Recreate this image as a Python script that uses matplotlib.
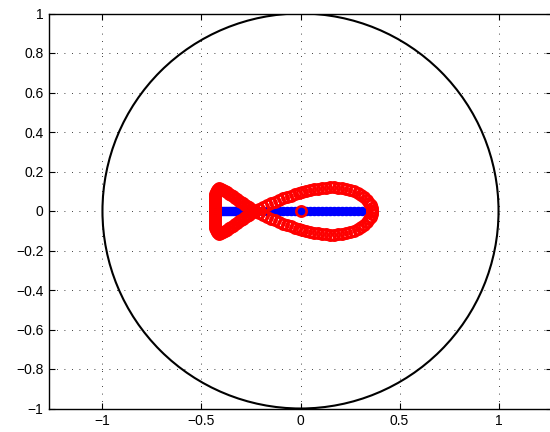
import matplotlib
matplotlib.use("Agg")
import matplotlib.pyplot as plt
from matplotlib.patches import Circle

plt.rcParams['font.family'] = ['Liberation Sans', 'DejaVu Sans']

# complex pair, upper half of the locus (lower half is the conjugate)
# right lobe, from the crossing point out to the real axis at the right
right_x = [-0.23, -0.21, -0.19, -0.17, -0.15, -0.13, -0.11, -0.09, -0.07, -0.05,
           -0.03, -0.01, 0.01, 0.03, 0.05, 0.07, 0.09, 0.11, 0.13, 0.15,
           0.17, 0.19, 0.21, 0.23, 0.25, 0.27, 0.29, 0.305, 0.32, 0.335,
           0.346, 0.354, 0.359, 0.361]
right_y = [0.000, 0.010, 0.020, 0.030, 0.039, 0.048, 0.056, 0.064, 0.071, 0.078,
           0.084, 0.090, 0.096, 0.101, 0.106, 0.110, 0.113, 0.116, 0.118, 0.119,
           0.119, 0.118, 0.116, 0.112, 0.107, 0.100, 0.091, 0.082, 0.071, 0.057,
           0.043, 0.029, 0.014, 0.000]

# left lobe, from the crossing point out to the left end
left_x = [-0.23, -0.24, -0.25, -0.26, -0.27, -0.28, -0.29, -0.30, -0.31, -0.32,
          -0.33, -0.34, -0.35, -0.36, -0.37, -0.38, -0.39, -0.40, -0.41, -0.418,
          -0.424, -0.428, -0.430, -0.431, -0.432, -0.432, -0.432, -0.432, -0.432,
          -0.432, -0.432]
left_y = [0.000, 0.006, 0.012, 0.019, 0.025, 0.032, 0.039, 0.046, 0.053, 0.060,
          0.067, 0.074, 0.081, 0.088, 0.095, 0.102, 0.108, 0.113, 0.115, 0.112,
          0.105, 0.096, 0.086, 0.076, 0.066, 0.056, 0.046, 0.036, 0.026, 0.016,
          0.006]

# real roots
real_x = [-0.42, -0.41, -0.40, -0.39, -0.38, -0.37, -0.36, -0.35, -0.34, -0.33,
          -0.32, -0.31, -0.30, -0.29, -0.28, -0.27, -0.26, -0.25, -0.24, -0.23,
          -0.21, -0.19, -0.17, -0.15, -0.13, -0.11, -0.09, -0.07, -0.05, -0.03,
          -0.01, 0.0, 0.01, 0.03, 0.05, 0.07, 0.09, 0.11, 0.13, 0.15, 0.17,
          0.19, 0.21, 0.23, 0.25, 0.27, 0.29, 0.31]

origin = [0.0]

xticks = [-1, -0.5, 0, 0.5, 1]
yticks = [-1, -0.8, -0.6, -0.4, -0.2, 0, 0.2, 0.4, 0.6, 0.8, 1]

fig = plt.figure(figsize=(5.5, 4.32), dpi=100)
ax = fig.add_axes([49 / 550, 23.5 / 432, 503 / 550, 395 / 432])

ax.add_patch(Circle((0, 0), 1, fill=False, color='k', lw=1.5, zorder=2))

ax.plot(real_x, [0] * len(real_x), 'o', color='b', ms=5.8, mec='b', zorder=3)

for xs, ys in [(right_x, right_y), (left_x, left_y)]:
    ax.plot(xs, ys, 'o', mfc='none', mec='r', mew=1.9, ms=7.4, zorder=4)
    ax.plot(xs, [-v for v in ys], 'o', mfc='none', mec='r', mew=1.9, ms=7.4, zorder=4)
ax.plot(origin, origin, 'o', mfc='none', mec='r', mew=1.9, ms=7.4, zorder=5)

ax.set_xlim(-1.27, 1.27)
ax.set_ylim(-1, 1)
ax.set_xticks(xticks)
ax.set_yticks(yticks)
ax.set_xticklabels(['\u22121', '\u22120.5', '0', '0.5', '1'])
ax.set_yticklabels(['\u22121', '\u22120.8', '\u22120.6', '\u22120.4', '\u22120.2', '0',
                    '0.2', '0.4', '0.6', '0.8', '1'])
ax.tick_params(direction='in', length=4, width=0.8, top=True, right=True,
               labelsize=10, pad=4)
ax.grid(True, color='k', linestyle=(0, (1, 8)), linewidth=0.6)
for s in ax.spines.values():
    s.set_linewidth(1.0)

fig.savefig('out.png', dpi=100)
